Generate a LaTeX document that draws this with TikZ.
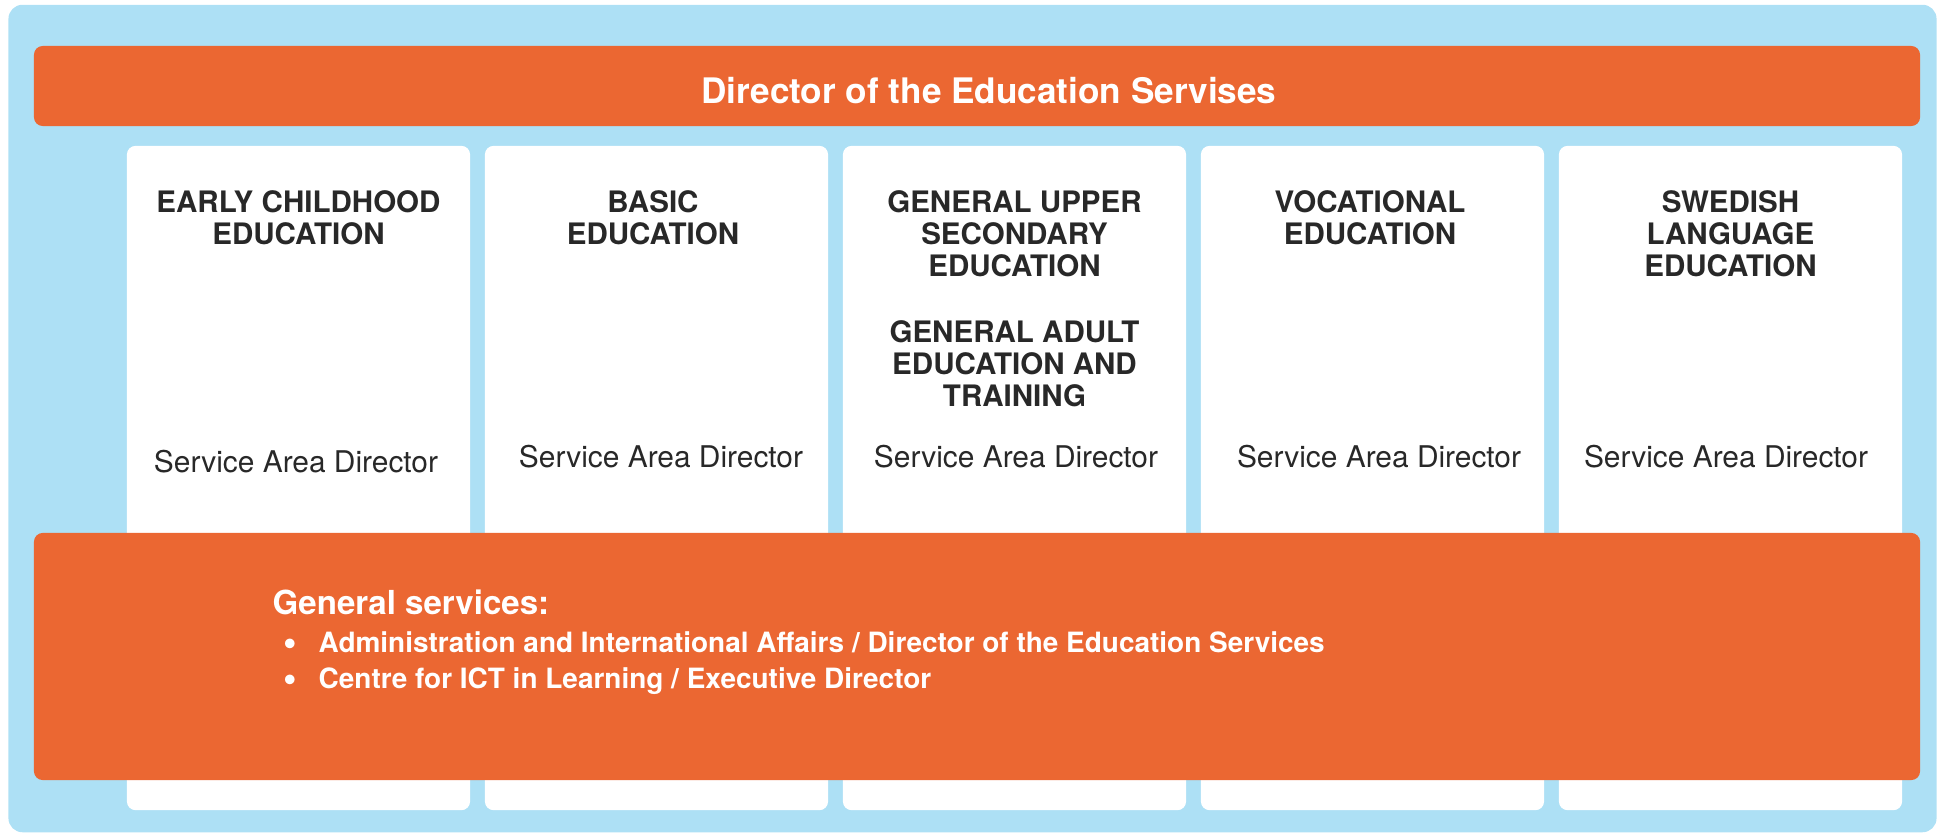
\documentclass[tikz,border=0pt]{standalone}
\usepackage{fontspec}
\setmainfont{TeX Gyre Heros}
\usetikzlibrary{positioning}
\definecolor{skyback}{RGB}{173,224,245}
\definecolor{edorange}{RGB}{235,103,50}
\definecolor{inkgrey}{RGB}{40,40,40}
\newcommand{\gsdot}{\makebox[0.35cm][l]{\raisebox{-0.2ex}{\fontsize{11}{9}\selectfont\textbullet}}}

\begin{document}
\begin{tikzpicture}[x=0.01cm,y=-0.01cm,
  bar/.style={fill=edorange,rounded corners=2.5pt,minimum width=18.85cm,inner sep=0},
  unitcol/.style={fill=white,rounded corners=2.5pt,minimum width=3.43cm,
                  minimum height=6.64cm,inner sep=0},
  unittitle/.style={anchor=north,inner sep=0,align=center,text=inkgrey,
                    font=\bfseries\fontsize{8.4}{9.1}\selectfont},
  sad/.style={anchor=base,inner sep=0,text=inkgrey,font=\fontsize{8.5}{10}\selectfont},
  gsitem/.style={anchor=base west,inner sep=0,text=white,font=\bfseries\fontsize{7.95}{9}\selectfont},
]
\useasboundingbox (0,0) rectangle (1939,833);

% Background
\node[fill=skyback,rounded corners=4pt,minimum width=19.27cm,minimum height=8.27cm,
      inner sep=0] (frame) at (972.5,418.5) {};

% Director
\node[bar,minimum height=0.8cm] (dir) at (977,86) {};
\node[anchor=base,inner sep=0,text=white,font=\bfseries\fontsize{10}{12}\selectfont]
  (dirtext) at (989,103) {Director of the Education Servises};

% Service areas
\node[unitcol] (c1) at (298.5,478) {};
\node[unitcol] (c2) at (656.5,478) {};
\node[unitcol] (c3) at (1014.5,478) {};
\node[unitcol] (c4) at (1372.5,478) {};
\node[unitcol] (c5) at (1730.5,478) {};

\node[unittitle] (t1)  at (298.5,189.5)  {EARLY CHILDHOOD\\EDUCATION};
\node[unittitle] (t2)  at (653,189.5)    {BASIC\\EDUCATION};
\node[unittitle] (t3a) at (1014.5,189.5) {GENERAL UPPER\\SECONDARY\\EDUCATION};
\node[unittitle] (t3b) at (1014.5,319.5) {GENERAL ADULT\\EDUCATION AND\\TRAINING};
\node[unittitle] (t4)  at (1370,189.5)   {VOCATIONAL\\EDUCATION};
\node[unittitle] (t5)  at (1730.5,189.5) {SWEDISH\\LANGUAGE\\EDUCATION};

\node[sad] (s1) at (296,472)    {Service Area Director};
\node[sad] (s2) at (661,467)    {Service Area Director};
\node[sad] (s3) at (1016,467)   {Service Area Director};
\node[sad] (s4) at (1379,467)   {Service Area Director};
\node[sad] (s5) at (1726,467)   {Service Area Director};

% General services
\node[bar,minimum height=2.47cm] (gen) at (977,656.5) {};
\node[gsitem,font=\bfseries\fontsize{9.4}{11}\selectfont] (gs) at (272,614) {General services:};
\node[gsitem] (g1) at (283,652)
  {\gsdot Administration and International Affairs / Director of the Education Services};
\node[gsitem] (g2) at (283,688)
  {\gsdot Centre for ICT in Learning / Executive Director};
\end{tikzpicture}
\end{document}
